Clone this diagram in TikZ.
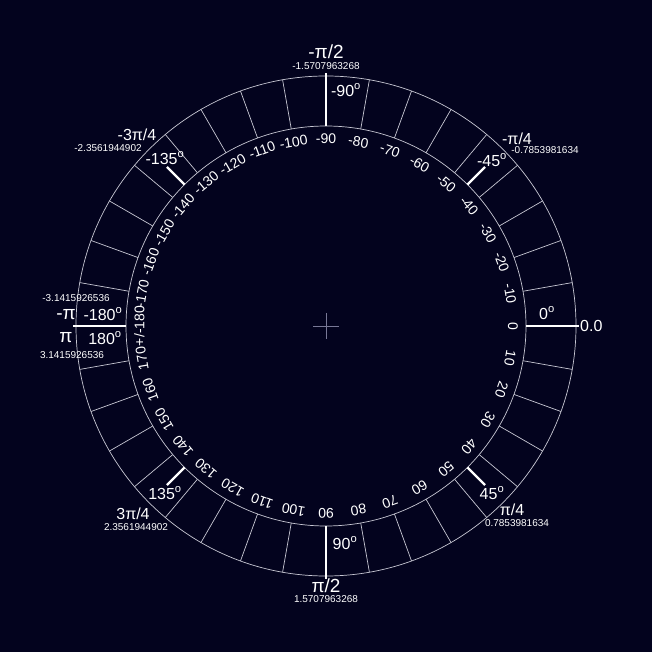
\documentclass[tikz,border=0pt]{standalone}
\usepackage{fontspec}
\setmainfont{Liberation Sans}
\usetikzlibrary{positioning}
\definecolor{DialNavy}{RGB}{3,3,30}
\definecolor{DialLine}{RGB}{200,200,212}
\definecolor{DialCross}{RGB}{120,120,150}
\newcommand{\dg}{\textsuperscript{o}}
\tikzset{
  dial/ring/.style={draw=DialLine, line width=0.7pt},
  dial/divider/.style={draw=DialLine, line width=0.7pt},
  dial/cross/.style={draw=DialCross, line width=0.7pt},
  dial/mark/.style={draw=white, line width=2.4pt},
  dial/num/.style={text=white, inner sep=0pt, anchor=north, font=\fontsize{14}{16}\selectfont},
  dial/deg/.style={text=white, inner sep=0pt, font=\fontsize{16}{18}\selectfont},
  dial/rad/.style={text=white, inner sep=0pt, font=\fontsize{16}{18}\selectfont},
  dial/bigrad/.style={dial/rad, font=\fontsize{19}{21}\selectfont},
  dial/dec/.style={text=white, inner sep=0pt, font=\fontsize{10}{12}\selectfont}
}
\begin{document}
\begin{tikzpicture}[x=1pt,y=-1pt]
  \fill[DialNavy] (-326,-326) rectangle (326,326);
  \useasboundingbox (-326,-326) rectangle (326,326);
  \coordinate (o) at (0,0);
  % rings and cells
  \draw[dial/ring] (o) circle (200);
  \draw[dial/ring] (o) circle (250);
  \foreach \a in {0,10,...,350}
    \draw[dial/divider] (\a:200) -- (\a:250);
  % centre cross
  \draw[dial/cross] (-13,0) -- (13,0);
  \draw[dial/cross] (0,-13) -- (0,13);
  % inner scale
  \foreach \a in {-170,-160,...,180} {
    \pgfmathtruncatemacro{\rot}{-\a-90}
    \ifnum\a=180
      \node[dial/num,rotate=\rot] (n\a) at (\a:192) {+/-180};
    \else
      \node[dial/num,rotate=\rot] (n\a) at (\a:192) {\a};
    \fi
  }
  % main marks
  \foreach \a in {0,90,180,270}
    \draw[dial/mark] (\a:200) -- (\a:253);
  \foreach \a in {45,135,225,315}
    \draw[dial/mark] (\a:200) -- (\a:225);
  % top
  \node[dial/bigrad] (r-90) at (0,-274) {-π/2};
  \node[dial/dec] (d-90) at (0,-260) {-1.5707963268};
  \node[dial/deg] (g-90) at (20,-236) {-90\dg};
  % bottom
  \node[dial/deg] (g90) at (19,217) {90\dg};
  \node[dial/bigrad] (r90) at (0,260) {π/2};
  \node[dial/dec] (d90) at (0,273) {1.5707963268};
  % right
  \node[dial/deg] (g0) at (221,-13) {0\dg};
  \node[dial/rad,anchor=west] (r0) at (254,0) {0.0};
  % left
  \node[dial/dec] (d-180) at (-250,-28) {-3.1415926536};
  \node[dial/bigrad] (r-180) at (-260,-11) {-π};
  \node[dial/deg] (g-180) at (-223,-12) {-180\dg};
  \node[dial/bigrad] (r180) at (-260,12) {π};
  \node[dial/deg] (g180) at (-221,12) {180\dg};
  \node[dial/dec] (d180) at (-254,29) {3.1415926536};
  % diagonals
  \node[dial/deg] (g-45) at (166,-166) {-45\dg};
  \node[dial/rad] (r-45) at (191,-187) {-π/4};
  \node[dial/dec] (d-45) at (219,-176) {-0.7853981634};
  \node[dial/deg] (g-135) at (-161,-168) {-135\dg};
  \node[dial/rad] (r-135) at (-189,-191) {-3π/4};
  \node[dial/dec] (d-135) at (-218,-178) {-2.3561944902};
  \node[dial/deg] (g135) at (-161,167) {135\dg};
  \node[dial/rad] (r135) at (-193,188) {3π/4};
  \node[dial/dec] (d135) at (-190,201) {2.3561944902};
  \node[dial/deg] (g45) at (166,167) {45\dg};
  \node[dial/rad] (r45) at (186,184) {π/4};
  \node[dial/dec] (d45) at (191,197) {0.7853981634};
\end{tikzpicture}
\end{document}
